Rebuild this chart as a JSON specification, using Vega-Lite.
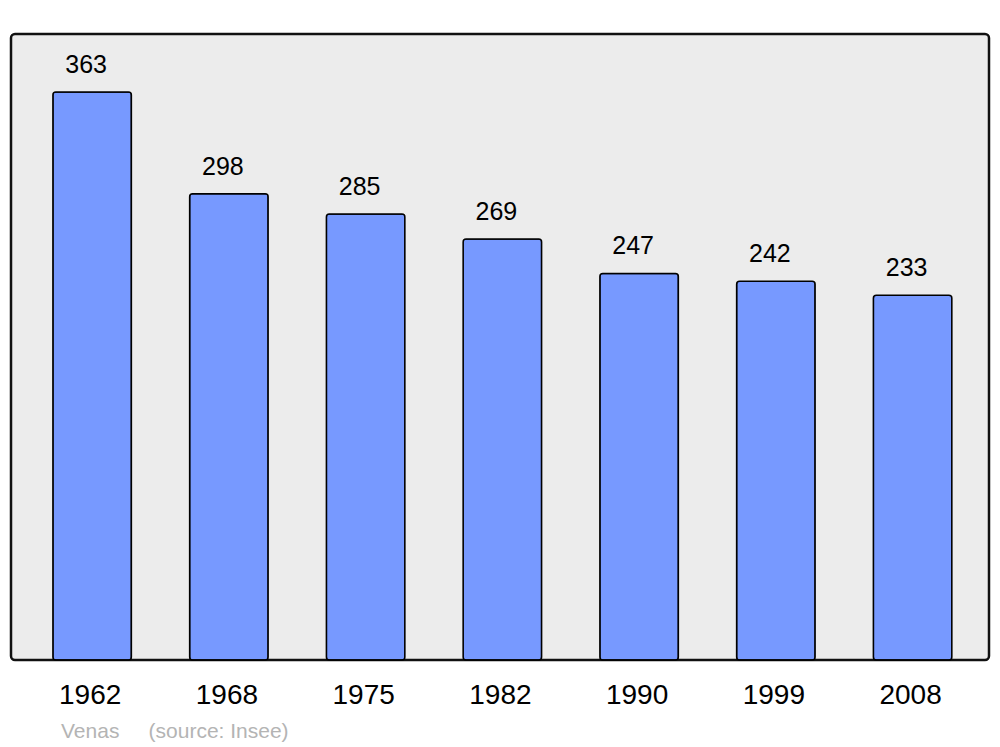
{
  "$schema": "https://vega.github.io/schema/vega-lite/v6.json",
  "width": 978,
  "height": 626,
  "autosize": {"type": "none"},
  "padding": {"left": 11, "top": 34, "right": 11, "bottom": 87},
  "background": "white",
  "config": {
    "view": {"fill": "#ececec", "stroke": "#111111", "strokeWidth": 2.5, "cornerRadius": 4},
    "font": "Liberation Sans"
  },
  "title": {
    "text": "Venas\u00a0\u00a0\u00a0\u00a0\u00a0(source: Insee)",
    "orient": "bottom",
    "anchor": "start",
    "frame": "group",
    "dx": 50,
    "offset": 12,
    "fontSize": 21,
    "fontWeight": "normal",
    "color": "#b4b4b4",
    "font": "Liberation Sans"
  },
  "data": {
    "values": [
      {"year": "1962", "pop": 363},
      {"year": "1968", "pop": 298},
      {"year": "1975", "pop": 285},
      {"year": "1982", "pop": 269},
      {"year": "1990", "pop": 247},
      {"year": "1999", "pop": 242},
      {"year": "2008", "pop": 233}
    ]
  },
  "encoding": {
    "x": {
      "field": "year",
      "type": "ordinal",
      "sort": null,
      "scale": {"paddingInner": 0.426, "paddingOuter": 0.289, "align": 0.53},
      "axis": {
        "title": null,
        "domain": false,
        "ticks": false,
        "labelAngle": 0,
        "labelFontSize": 28,
        "labelColor": "black",
        "labelPadding": 21,
        "labelOffset": -2,
        "labelFont": "Liberation Sans"
      }
    },
    "y": {
      "field": "pop",
      "type": "quantitative",
      "scale": {"domain": [0, 400], "nice": false},
      "axis": null
    }
  },
  "layer": [
    {
      "mark": {"type": "bar", "fill": "#7799ff", "stroke": "#000000", "strokeWidth": 1.5, "cornerRadius": 3}
    },
    {
      "mark": {"type": "text", "baseline": "alphabetic", "dy": -19, "dx": -6, "fontSize": 25, "color": "black", "font": "Liberation Sans"},
      "encoding": {"text": {"field": "pop", "type": "quantitative"}}
    }
  ]
}
